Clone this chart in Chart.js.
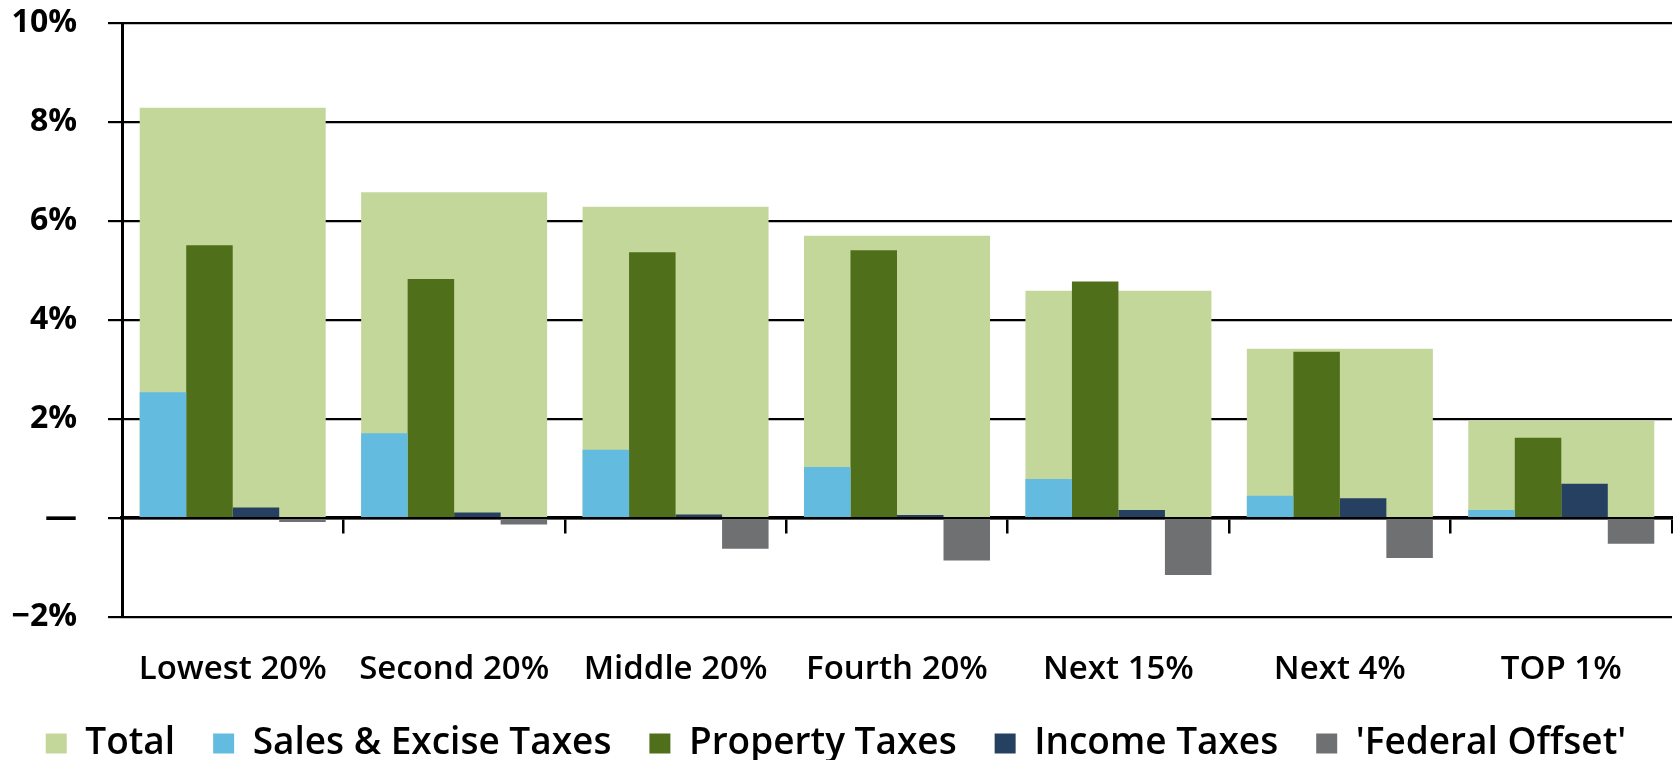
<!DOCTYPE html>
<html>
<head>
<meta charset="utf-8">
<script src="https://cdn.jsdelivr.net/npm/chart.js@4.4.1/dist/chart.umd.min.js"></script>
<style>
  html, body { margin: 0; padding: 0; background: #fff; }
  #wrap { width: 1673px; height: 760px; position: relative; }
</style>
</head>
<body>
<div id="wrap"><canvas id="chart"></canvas></div>
<script>
const groups = ['Lowest 20%', 'Second 20%', 'Middle 20%', 'Fourth 20%', 'Next 15%', 'Next 4%', 'TOP 1%'];
const total = [8.29, 6.58, 6.29, 5.70, 4.59, 3.42, 1.97];
const salesExcise = [2.54, 1.71, 1.38, 1.03, 0.79, 0.45, 0.16];
const property = [5.51, 4.83, 5.37, 5.41, 4.78, 3.36, 1.62];
const income = [0.21, 0.11, 0.07, 0.06, 0.16, 0.40, 0.69];
const federalOffset = [-0.08, -0.13, -0.62, -0.86, -1.15, -0.81, -0.52];
const yTicks = [-2, 0, 2, 4, 6, 8, 10];

const FONT = '"Open Sans", "DejaVu Sans", sans-serif';

// the four component bars sit side by side, filling the same width as the Total bar
function comp(label, data, color){
  return { label, data, backgroundColor: color, borderWidth: 0, order: 0,
    categoryPercentage: 0.84, barPercentage: 1.0 };
}

new Chart(document.getElementById('chart'), {
  type: 'bar',
  data: {
    labels: groups,
    datasets: [
      { label: 'Total', data: total, backgroundColor: '#c4d79b', borderWidth: 0, order: 1,
        grouped: false, categoryPercentage: 0.84, barPercentage: 1.0 },
      comp('Sales & Excise Taxes', salesExcise, '#63bbdf'),
      comp('Property Taxes', property, '#4f6f1b'),
      comp('Income Taxes', income, '#264061'),
      comp("'Federal Offset'", federalOffset, '#6f7072')
    ]
  },
  options: {
    responsive: true,
    maintainAspectRatio: false,
    animation: false,
    layout: { padding: { left: 0, right: 1, top: 23, bottom: -12 } },
    plugins: {
      tooltip: { enabled: false },
      legend: {
        position: 'bottom',
        labels: {
          boxWidth: 21, boxHeight: 20, padding: 38, color: '#000',
          font: { family: FONT, size: 37, weight: '600' },
          sort: (a, b) => a.datasetIndex - b.datasetIndex
        }
      }
    },
    scales: {
      x: {
        type: 'category',
        position: 'bottom',
        afterFit: s => { s.height = 70; },
        grid: { display: false, drawTicks: false, tickLength: 0 },
        border: { display: false },
        ticks: { color: '#000', padding: 36, font: { family: FONT, size: 33, weight: '600', lineHeight: 1 } }
      },
      // zero line with tick marks between the groups, drawn over the bars
      x0: {
        type: 'category',
        position: { y: 0 },
        z: 1,
        grid: { drawOnChartArea: false, drawTicks: true, tickLength: 14, color: '#000', lineWidth: 2.5, offset: true },
        border: { color: '#000', width: 3.5 },
        ticks: { display: false }
      },
      y: {
        min: -2, max: 10,
        afterBuildTicks: s => { s.ticks = yTicks.map(v => ({ value: v })); },
        afterFit: s => { s.width = 122; s.paddingTop = 0; s.paddingBottom = 0; },
        grid: { color: '#000', lineWidth: 2.2, tickLength: 14 },
        border: { color: '#000', width: 3 },
        ticks: {
          color: '#000', padding: 31,
          font: { family: FONT, size: 32, weight: '700', lineHeight: 1 },
          callback: v => v === 0 ? '\u2014' : (v < 0 ? '\u2212' + Math.abs(v) : v) + '%'
        }
      }
    }
  }
});
</script>
</body>
</html>
